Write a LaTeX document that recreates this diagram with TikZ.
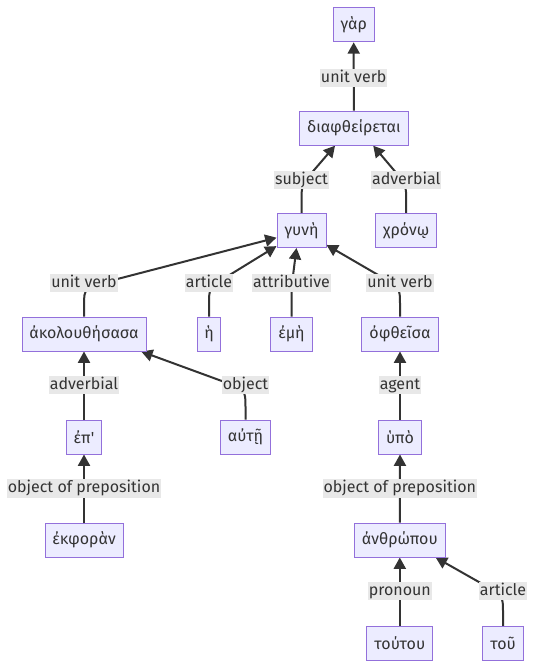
\documentclass[tikz,border=0pt]{standalone}
\usepackage{fontspec}
\newfontfamily\fira{Fira Sans}
\usetikzlibrary{arrows.meta,calc}
\pgfdeclarelayer{bg}
\pgfsetlayers{bg,main}
\definecolor{boxfill}{HTML}{ECECFF}
\definecolor{boxdraw}{HTML}{9370DB}
\definecolor{ink}{HTML}{333333}
\definecolor{labfill}{HTML}{E8E8E8}
% #1 child, #2 label, #3 target, #4 distance along towards target
\newcommand\bentedge[4]{%
  \draw[edge] (#1.north) -- ($(#2.center)+(0,-17pt)$)
    .. controls ($(#2.center)+(0,-3.5pt)$) ..
    ($($(#2.center)+(0,-3.5pt)$)!#4!(#3)$) -- (#3);}
\begin{document}
\begin{tikzpicture}[x=0.75pt,y=-0.75pt,
  box/.style={draw=boxdraw, fill=boxfill, line width=0.75pt, minimum height=25.5pt,
    inner sep=0pt, text=ink, font=\fira\fontsize{12}{14}\selectfont},
  lab/.style={fill=labfill, inner xsep=0.8pt, inner ysep=1.1pt, text height=9pt,
    text depth=2.6pt, text=ink, font=\fira\fontsize{12}{14}\selectfont},
  edge/.style={draw=ink, line width=1.5pt, -{Triangle[length=8.5pt,width=9pt]}}]
\useasboundingbox (0,0) rectangle (534,668);
% nodes
\node[box, minimum width=41*0.75pt]  (gar)    at (353.7,24.8)  {γὰρ};
\node[box, minimum width=109*0.75pt] (diaph)  at (353.8,128.2) {διαφθείρεται};
\node[box, minimum width=49*0.75pt]  (gyne)   at (301.5,230.5) {γυνὴ};
\node[box, minimum width=61*0.75pt]  (chrono) at (406.2,230.5) {χρόνῳ};
\node[box, minimum width=124*0.75pt] (akol)   at (84,334)      {ἀκολουθήσασα};
\node[box, minimum width=23.5*0.75pt](he)     at (209,334)     {ἡ};
\node[box, minimum width=41.6*0.75pt](eme)    at (291.5,334)   {ἐμὴ};
\node[box, minimum width=76.7*0.75pt](ophth)  at (400,334)     {ὀφθεῖσα};
\node[box, minimum width=35*0.75pt]  (ep)     at (84,437)      {ἐπ'};
\node[box, minimum width=50*0.75pt]  (aute)   at (245.5,437)   {αὐτῇ};
\node[box, minimum width=43*0.75pt]  (hypo)   at (400,437)     {ὑπὸ};
\node[box, minimum width=78*0.75pt]  (ekph)   at (84,540)      {ἐκφορὰν};
\node[box, minimum width=91*0.75pt]  (anthr)  at (399.8,540)   {ἀνθρώπου};
\node[box, minimum width=66*0.75pt]  (toutou) at (399.8,643.5) {τούτου};
\node[box, minimum width=41.5*0.75pt](tou)    at (503,643.5)   {τοῦ};
% edge labels
\node[lab] (l1)  at (353.7,78)  {unit verb};
\node[lab] (l2)  at (301.5,180) {subject};
\node[lab] (l3)  at (406.2,180) {adverbial};
\node[lab] (l4)  at (84,283)    {unit verb};
\node[lab] (l5)  at (209,283)   {article};
\node[lab] (l6)  at (291.5,283) {attributive};
\node[lab] (l7)  at (400,283)   {unit verb};
\node[lab] (l8)  at (84,385)    {adverbial};
\node[lab] (l9)  at (245.5,385) {object};
\node[lab] (l10) at (400,385)   {agent};
\node[lab] (l11) at (84,488.5)  {object of preposition};
\node[lab] (l12) at (399.8,488.5) {object of preposition};
\node[lab] (l13) at (399.8,591) {pronoun};
\node[lab] (l14) at (503,591)   {article};
% edges
\begin{pgfonlayer}{bg}
\draw[edge] (diaph.north) -- (gar.south);
\bentedge{gyne}{l2}{diaph.223}{14pt}
\bentedge{chrono}{l3}{diaph.318}{14pt}
\bentedge{akol}{l4}{gyne.196}{24pt}
\bentedge{he}{l5}{gyne.212}{15pt}
\bentedge{eme}{l6}{gyne.254}{10pt}
\bentedge{ophth}{l7}{gyne.330}{15pt}
\draw[edge] (ep.north) -- (akol.south);
\bentedge{aute}{l9}{akol.343}{18pt}
\draw[edge] (hypo.north) -- (ophth.south);
\draw[edge] (ekph.north) -- (ep.south);
\draw[edge] (anthr.north) -- (hypo.south);
\draw[edge] (toutou.north) -- (anthr.south);
\bentedge{tou}{l14}{anthr.334}{15pt}
\end{pgfonlayer}
\end{tikzpicture}
\end{document}
